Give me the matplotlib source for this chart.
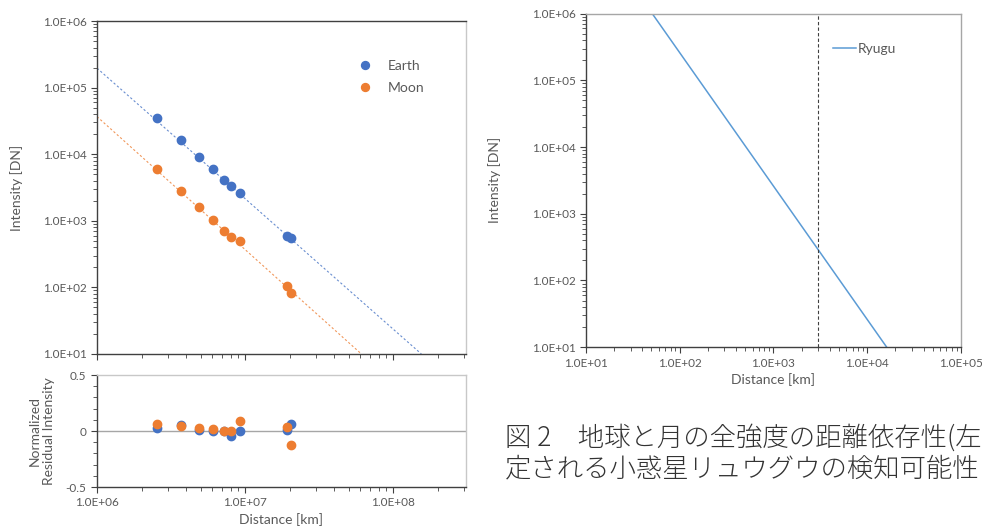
import matplotlib
matplotlib.use("Agg")
import matplotlib.pyplot as plt
import numpy as np
from matplotlib.ticker import LogLocator, FixedLocator, NullFormatter, MultipleLocator

plt.rcParams['font.family'] = ['Lato', 'DejaVu Sans']

# data
distance = [2.53e6, 3.69e6, 4.89e6, 6.08e6, 7.25e6, 8.0e6, 9.2e6, 1.92e7, 2.03e7]
earth = [3.45e4, 1.65e4, 9.0e3, 6.0e3, 4.1e3, 3.3e3, 2.6e3, 600, 560]
moon = [6.1e3, 2.8e3, 1.6e3, 1.03e3, 710, 580, 500, 105, 82]
earth_res = [0.03, 0.05, 0.01, 0.0, -0.0, -0.04, 0.0, 0.01, 0.06]
moon_res = [0.06, 0.045, 0.03, 0.02, 0.0, 0.0, 0.086, 0.035, -0.125]
# fitted lines (end points)
earth_fit_x = [1e6, 1.55e8]
earth_fit_y = [1.96e5, 1e1]
moon_fit_x = [1e6, 6.1e7]
moon_fit_y = [3.67e4, 1e1]
# Ryugu
ryugu_x = [10, 1e5]
ryugu_y = [2.6e7, 0.26]
limit_km = 3000

blue = '#4472C4'
orange = '#ED7D31'
txt = '#595959'
dark = '#404040'
light = '#C8C8C8'

def ticklabel(v, pos):
    e = int(round(np.log10(v)))
    return '1.0E+%02d' % e

def style(ax, top_col, right_col):
    ax.spines['left'].set_color(dark)
    ax.spines['bottom'].set_color(dark)
    ax.spines['top'].set_color(top_col)
    ax.spines['right'].set_color(right_col)
    for s in ax.spines.values():
        s.set_linewidth(1.0)
    ax.tick_params(which='both', colors=dark, labelcolor=txt, labelsize=8.5, direction='out')
    ax.tick_params(which='major', length=4)
    ax.tick_params(which='minor', length=3)

fig = plt.figure(figsize=(9.82, 5.26), dpi=100)

# left top
ax1 = fig.add_axes([0.0988, 0.327, 0.3757, 0.633])
ax1.plot(earth_fit_x, earth_fit_y, linestyle=(0, (2, 2)), color=blue, lw=0.8, alpha=0.8)
ax1.plot(moon_fit_x, moon_fit_y, linestyle=(0, (2, 2)), color=orange, lw=0.8, alpha=0.8)
ax1.plot(distance, earth, 'o', color=blue, ms=6, label='Earth')
ax1.plot(distance, moon, 'o', color=orange, ms=6, label='Moon')
ax1.set_xscale('log')
ax1.set_yscale('log')
ax1.set_xlim(1e6, 3.1e8)
ax1.set_ylim(1e1, 1e6)
ax1.yaxis.set_major_formatter(plt.FuncFormatter(ticklabel))
ax1.yaxis.set_minor_locator(LogLocator(subs=np.arange(2, 10), numticks=20))
ax1.yaxis.set_minor_formatter(NullFormatter())
ax1.xaxis.set_major_formatter(NullFormatter())
ax1.xaxis.set_minor_formatter(NullFormatter())
style(ax1, dark, light)
ax1.set_ylabel('Intensity [DN]', fontsize=10, color=txt, labelpad=14)
leg = ax1.legend(loc='upper right', bbox_to_anchor=(0.92, 0.92), frameon=False,
                 fontsize=10, handletextpad=0.6, labelspacing=0.7, markerscale=0.95)
for t in leg.get_texts():
    t.set_color(txt)

# left bottom residuals
ax2 = fig.add_axes([0.0988, 0.074, 0.3757, 0.213])
ax2.axhline(0, color='#A6A6A6', lw=1.0)
ax2.plot(distance, earth_res, 'o', color=blue, ms=6)
ax2.plot(distance, moon_res, 'o', color=orange, ms=6)
ax2.set_xscale('log')
ax2.set_xlim(1e6, 3.1e8)
ax2.set_ylim(-0.5, 0.5)
ax2.yaxis.set_major_locator(FixedLocator([-0.5, 0, 0.5]))
ax2.yaxis.set_minor_locator(MultipleLocator(0.1))
ax2.set_yticklabels(['-0.5', '0', '0.5'])
ax2.xaxis.set_major_formatter(plt.FuncFormatter(ticklabel))
ax2.xaxis.set_minor_formatter(NullFormatter())
style(ax2, light, light)
ax2.set_ylabel('Normalized\nResidual Intensity', fontsize=10, color=txt, labelpad=8)
ax2.set_xlabel('Distance [km]', fontsize=10, color=txt, labelpad=3)

# right
ax3 = fig.add_axes([0.5967, 0.340, 0.3819, 0.634])
ax3.plot(ryugu_x, ryugu_y, color='#5B9BD5', lw=1.1, label='Ryugu')
ax3.axvline(limit_km, color=dark, lw=0.8, linestyle=(0, (3, 2)))
ax3.set_xscale('log')
ax3.set_yscale('log')
ax3.set_xlim(1e1, 1e5)
ax3.set_ylim(1e1, 1e6)
ax3.xaxis.set_major_formatter(plt.FuncFormatter(ticklabel))
ax3.yaxis.set_major_formatter(plt.FuncFormatter(ticklabel))
ax3.yaxis.set_minor_locator(LogLocator(subs=np.arange(2, 10), numticks=20))
ax3.xaxis.set_minor_formatter(NullFormatter())
ax3.yaxis.set_minor_formatter(NullFormatter())
style(ax3, '#A6A6A6', '#A6A6A6')
ax3.set_ylabel('Intensity [DN]', fontsize=10, color=txt, labelpad=22)
ax3.set_xlabel('Distance [km]', fontsize=10, color=txt, labelpad=3)
leg3 = ax3.legend(loc='upper right', bbox_to_anchor=(0.86, 0.95), frameon=False,
                  fontsize=10, handlelength=1.7, handletextpad=0.1)
for t in leg3.get_texts():
    t.set_color(txt)

# caption
cap = ['Noto Sans CJK JP', 'DejaVu Sans']
fig.text(0.514, 1 - 438 / 526, '図 2\u3000地球と月の全強度の距離依存性(左', family=cap,
         fontsize=19, fontweight='light', color='#333333', va='center', ha='left')
fig.text(0.514, 1 - 468 / 526, '定される小惑星リュウグウの検知可能性', family=cap,
         fontsize=19, fontweight='light', color='#333333', va='center', ha='left')

fig.savefig('out.png', dpi=100)
